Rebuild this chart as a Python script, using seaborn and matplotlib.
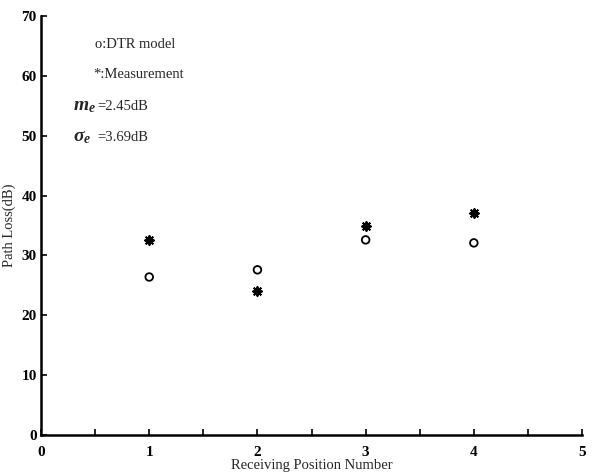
import matplotlib
matplotlib.use("Agg")
import matplotlib.pyplot as plt
import seaborn as sns
import pandas as pd
from matplotlib.ticker import MultipleLocator

positions = [1, 2, 3, 4]
dtr_model = [26.4, 27.6, 32.6, 32.1]
measurement = [32.6, 24.1, 34.9, 37.1]
x_ticks = [0, 1, 2, 3, 4, 5]
y_ticks = [0, 10, 20, 30, 40, 50, 60, 70]

sns.set_style("ticks")
plt.rcParams['font.family'] = ['Liberation Serif', 'DejaVu Serif']
plt.rcParams['mathtext.fontset'] = 'custom'
plt.rcParams['mathtext.it'] = 'Liberation Serif:italic:bold'
plt.rcParams['mathtext.rm'] = 'Liberation Serif'

fig = plt.figure(figsize=(5.97, 4.75), dpi=100)
ax = fig.add_axes([0.0687, 0.0842, 0.9063, 0.882])

df_m = pd.DataFrame({"pos": positions, "loss": dtr_model})
df_s = pd.DataFrame({"pos": positions, "loss": measurement})
sns.scatterplot(data=df_m, x="pos", y="loss", ax=ax, marker="o", s=30,
                facecolor="none", edgecolor="black", linewidth=1.3)
sns.scatterplot(data=df_s, x="pos", y="loss", ax=ax, marker=(8, 2, 0), s=40,
                color="black", linewidth=1.4)

ax.set_xlim(0, 5)
ax.set_ylim(0, 70)
ax.set_xticks(x_ticks)
ax.set_yticks(y_ticks)
ax.xaxis.set_minor_locator(MultipleLocator(0.5))
ax.tick_params(axis="both", which="both", direction="in", labelsize=11,
               width=1.2, color="black", labelcolor="black")
ax.tick_params(axis="x", which="major", length=4, pad=8)
ax.tick_params(axis="y", which="major", length=4, pad=3)
ax.tick_params(axis="x", which="minor", length=4)
for lab in ax.get_xticklabels() + ax.get_yticklabels():
    lab.set_fontweight("bold")
sns.despine(ax=ax)
for sp in ["left", "bottom"]:
    ax.spines[sp].set_linewidth(1.8)
    ax.spines[sp].set_color("black")

ax.set_xlabel("Receiving Position Number", fontsize=10.5, labelpad=0)
ax.set_ylabel("Path Loss(dB)", fontsize=10.5, labelpad=4)

ax.text(0.50, 65.3, "o:DTR model", fontsize=10.5, va="center")
ax.text(0.48, 60.3, "*:Measurement", fontsize=10.5, va="center")
ax.text(0.30, 54.9, r"$m_e$", fontsize=14, va="center")
ax.text(0.52, 54.9, "=2.45dB", fontsize=10.5, va="center")
ax.text(0.30, 49.7, r"$\sigma_e$", fontsize=14, va="center")
ax.text(0.52, 49.7, "=3.69dB", fontsize=10.5, va="center")

fig.savefig("out.png", dpi=100)
